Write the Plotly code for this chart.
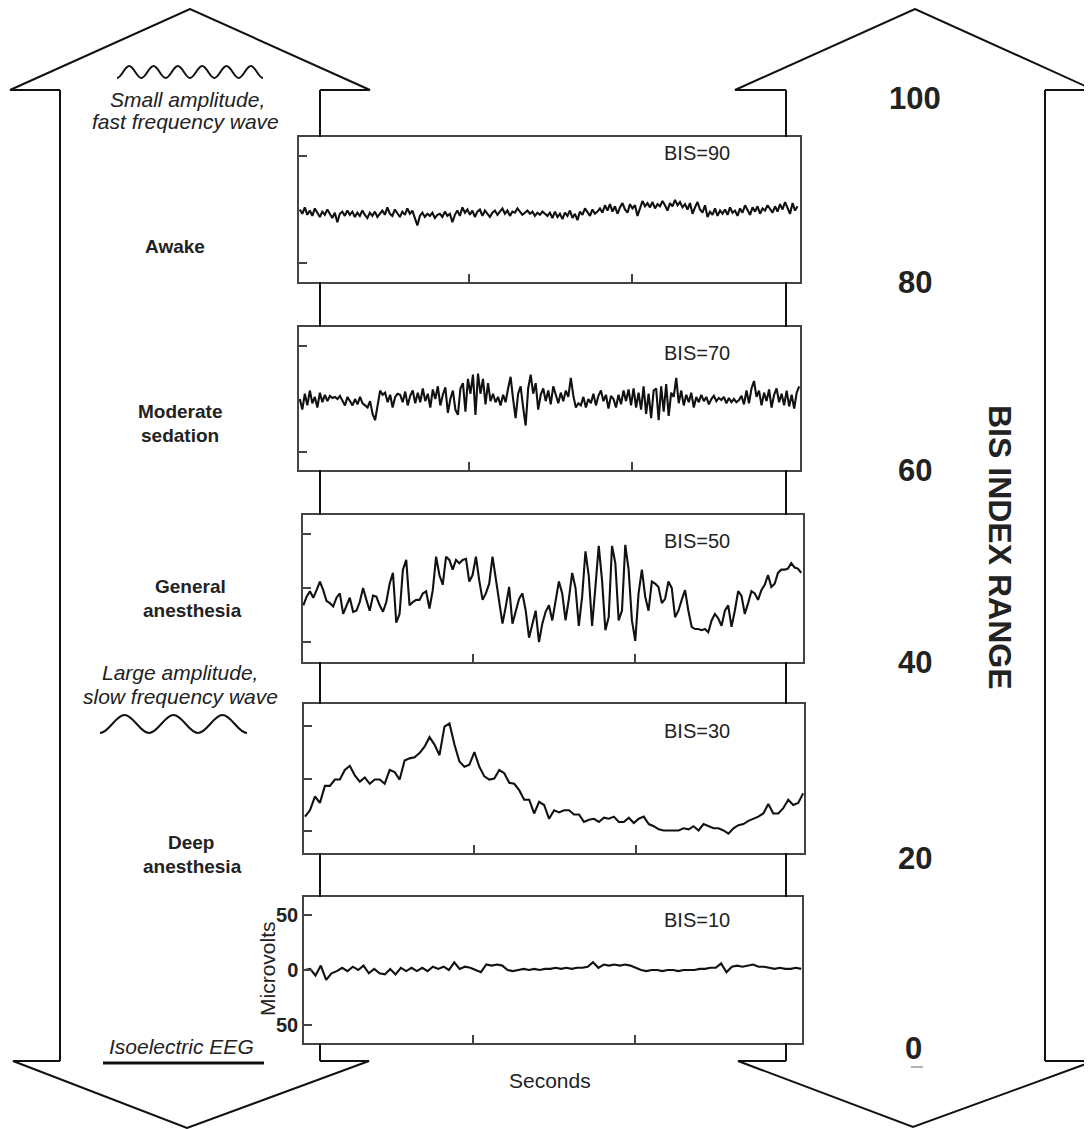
import numpy as np
import plotly.graph_objects as go

# ---------------- data ----------------
bis_labels = ["BIS=90", "BIS=70", "BIS=50", "BIS=30", "BIS=10"]
state_labels = [["Awake"], ["Moderate", "sedation"], ["General", "anesthesia"], ["Deep", "anesthesia"]]
bis_scale = ["100", "80", "60", "40", "20", "0"]

# time span of each trace (seconds)
t_awake = (-0.04, 3.02)
t_moderate = (-0.04, 3.03)
t_general = (-0.043, 3.024)
t_deep = (-0.039, 3.03)
t_iso = (-0.04, 3.03)

# EEG amplitudes (microvolts)
eeg_awake = [
    0, -4, 2, -5, -1, -6, 1, -3, -7, -2, -5, 0, -4, -8, -3, -12, -4, -2, -6, -1,
    -5, -2, -7, -3, -6, -1, -5, -8, -3, -6, -2, -7, -4, -1, -5, 2, -4, -6, 0, -3,
    -7, -2, -5, 1, -4, -1, -9, -15, -6, -3, -7, -4, -6, -3, -8, -5, -4, -7, -2, -6,
    -4, -12, -5, -1, -6, 2, -3, 0, -5, -1, -7, -2, 0, -6, -1, -4, -7, -3, -1, -5,
    -2, 1, -4, -1, -6, -2, -3, 1, -2, -5, -3, -1, -4, -2, -6, -3, -5, -2, -4, -6,
    -3, -8, -2, -7, -4, -9, -3, -6, -1, -8, -4, -10, -2, -5, 1, -3, -6, 0, -4, -2,
    1, -3, 4, -1, 5, -2, 3, -4, 2, 6, 0, -3, 5, 1, 4, -6, 2, 8, 3, 6,
    2, 7, 1, 5, 3, 8, 4, -1, 6, 3, 9, 4, 7, 2, 5, 0, 6, -4, 2, 7,
    0, -3, 4, -7, -2, -5, 1, -6, -1, -4, 0, -5, 2, -3, -1, -6, 1, -3, 4, 0,
    -5, 2, -2, 3, -4, 1, -1, 4, 0, -3, 3, -2, 5, 0, 7, 2, -4, 6, -1, 3,
]
eeg_moderate = [
    0, -10, 5, -6, 8, -4, 2, -8, 6, -3, 4, -2, 3, 1, 2, 0, 3, -1, -6, 2,
    -2, -6, 0, -5, 2, -4, -6, -8, -2, -14, -20, -4, 8, 4, 6, -3, 4, -8, 2, 5,
    4, -3, 7, -6, 3, 8, -4, 6, -3, 10, -2, 5, -8, 9, 0, 12, -6, 4, 11, -13,
    0, 8, -10, -15, 10, 15, -12, 19, 5, 23, -15, 24, 5, 19, -5, 15, -2, 5, -3, 2,
    -6, 4, -3, 10, 21, 0, -18, 5, 12, -8, -25, 10, 23, 5, 15, -10, 4, 10, -2, 8,
    -5, 12, 3, -4, 6, -2, 8, 2, 20, 3, -8, -4, -6, 2, -8, 0, -4, 5, -6, 3,
    8, -2, 4, -9, 3, 0, -8, 4, -5, 8, -2, 9, -6, 10, -8, 6, -10, 12, -14, 5,
    -18, 8, 10, -20, 12, -12, 14, -16, 6, 2, 20, -4, 8, -6, 4, -3, 6, -8, 2, -3,
    4, -2, 2, -5, 0, 3, -2, 1, -1, 2, -4, 1, -3, 0, -3, -1, 3, -5, 8, -4,
    10, 17, 2, 8, -6, 6, -2, 9, -8, 4, 10, -3, 5, -6, 8, -7, 4, -9, 6, 12,
]
eeg_general = [
    -16, -8, -3, -9, -2, 6, -2, -12, -14, -17,
    -9, -5, -24, -16, -9, -22, -21, -13, 0, -11,
    -21, -7, -8, -16, -22, -13, 4, 14, -32, -24,
    17, 26, -16, -13, -11, -11, -5, -3, -19, -2,
    29, 12, 3, 29, 26, 17, 26, 23, 26, 27,
    6, 12, 29, 7, -11, -5, 4, 29, 9, -13,
    -33, -17, 1, -33, -21, -10, -5, -21, -46, -33,
    -21, -50, -33, -22, -16, -30, -10, 6, -5, -30,
    -10, 14, 0, -35, -8, 34, 11, -35, 1, 39,
    7, -39, -27, 39, 23, -30, -21, 40, 17, -30,
    -49, -5, 17, -8, -21, 6, 4, 1, -14, -10,
    6, 0, -27, -21, -11, -2, -21, -36, -38, -38,
    -39, -38, -41, -30, -24, -28, -35, -21, -16, -36,
    -21, -3, -7, -24, -14, -3, -5, -11, -2, 3,
    12, 1, 4, 14, 17, 17, 18, 23, 19, 18,
    14,
]
eeg_deep = [
    -36, -30, -17, -23, -7, -7, -1, -1, 8, 12,
    3, -3, 1, -5, -1, -1, -5, 8, 6, -1,
    17, 19, 20, 24, 30, 39, 32, 22, 49, 52,
    32, 16, 11, 13, 25, 11, 2, -1, 0, 8,
    5, -4, -5, -11, -20, -20, -33, -22, -25, -38,
    -30, -32, -30, -30, -34, -34, -41, -39, -38, -41,
    -37, -38, -36, -41, -41, -37, -42, -38, -36, -43,
    -45, -48, -49, -49, -49, -49, -47, -48, -45, -49,
    -43, -45, -47, -47, -49, -52, -47, -44, -43, -40,
    -38, -36, -33, -24, -33, -33, -28, -20, -25, -23,
    -14,
]
eeg_iso = [
    0, 1, -5, 4, -9, -3, -1, 2, -1, 3,
    0, 4, -3, 1, -3, -4, 1, -4, 2, -1,
    2, -1, 2, -1, 3, 1, 3, 0, 7, 1,
    3, 2, 0, -2, 5, 4, 5, 4, 0, -1,
    0, 1, 0, 1, 0, 1, 1, 2, 1, 2,
    1, 2, 2, 3, 7, 2, 5, 4, 5, 4,
    5, 4, 2, 0, -1, 0, 0, -1, 0, 0,
    -1, 0, 0, 0, 1, 1, 2, 2, 6, -2,
    3, 4, 3, 4, 5, 3, 3, 2, 1, 2,
    1, 1, 2, 1,
]
y_tick_vals = [-50, 0, 50]
y_tick_text = ["50", "0", "50"]
x_tick_vals = [1, 2]

# ---------------- layout geometry (pixels of the 1092x1129 window) ----------------
OFF = 8                      # page body margin of the browser
W, H = 1092 - OFF, 1129 - OFF
FONT = "Liberation Sans"
INK = "#111111"
TXT = "#222222"


def px(x):
    return (x - OFF) / W


def py(y):
    return 1 - (y - OFF) / H


panels = [
    dict(vals=eeg_awake, t=t_awake, box=(299, 800, 137, 282), yr=[-68, 68], yt=[-50, 50], lab=(697, 153)),
    dict(vals=eeg_moderate, t=t_moderate, box=(299, 800, 327, 470), yr=[-67, 68], yt=[-50, 50], lab=(697, 353)),
    dict(vals=eeg_general, t=t_general, box=(303, 803, 515, 662), yr=[-68.5, 67.6], yt=y_tick_vals, lab=(697, 541)),
    dict(vals=eeg_deep, t=t_deep, box=(304, 804, 704, 853), yr=[-70.3, 70.3], yt=y_tick_vals, lab=(697, 731)),
    dict(vals=eeg_iso, t=t_iso, box=(304, 802, 897, 1043), yr=[-66.4, 66.4], yt=y_tick_vals, lab=(697, 920)),
]

fig = go.Figure()
layout = dict(
    width=W, height=H, margin=dict(l=0, r=0, t=0, b=0),
    paper_bgcolor="white", plot_bgcolor="white", showlegend=False,
    font=dict(family=FONT, color=TXT),
)
annotations = []
shapes = []

for i, p in enumerate(panels, start=1):
    xa = "x" if i == 1 else f"x{i}"
    ya = "y" if i == 1 else f"y{i}"
    n = len(p["vals"])
    t = np.linspace(p["t"][0], p["t"][1], n)
    fig.add_trace(go.Scatter(x=t, y=p["vals"], mode="lines",
                             line=dict(color=INK, width=2.1),
                             xaxis=xa, yaxis=ya, hoverinfo="skip"))
    x0, x1, y0, y1 = p["box"]
    last = i == len(panels)
    layout["xaxis" if i == 1 else f"xaxis{i}"] = dict(
        domain=[px(x0), px(x1)], range=[-0.045, 3.035], anchor=ya,
        tickvals=x_tick_vals, ticks="inside", ticklen=8, tickwidth=1.5, tickcolor="#444",
        showticklabels=False, showline=True, mirror=True, linecolor="#444", linewidth=1.5,
        showgrid=False, zeroline=False, fixedrange=True,
    )
    layout["yaxis" if i == 1 else f"yaxis{i}"] = dict(
        domain=[py(y1), py(y0)], range=p["yr"], anchor=xa,
        tickvals=p["yt"], ticktext=[y_tick_text[y_tick_vals.index(v)] for v in p["yt"]],
        ticks="inside", ticklen=8, tickwidth=1.5, tickcolor="#444",
        showticklabels=last, tickfont=dict(family=FONT, size=20, color=TXT, weight="bold"),
        showline=True, mirror=True, linecolor="#444", linewidth=1.5,
        showgrid=False, zeroline=False, fixedrange=True,
    )
    annotations.append(dict(x=px(p["lab"][0]), y=py(p["lab"][1]), xref="paper", yref="paper",
                            text=bis_labels[i - 1], showarrow=False, xanchor="center", yanchor="middle",
                            font=dict(family=FONT, size=20, color=TXT)))


def poly(points):
    return "M " + " L ".join(f"{px(x):.5f},{py(y):.5f}" for x, y in points)


def wave(xs, xe, ytrough, ypeak, periods):
    per = (xe - xs) / periods
    h = per / 2
    k = 0.3642
    d = f"M {px(xs):.5f},{py(ytrough):.5f}"
    x = xs
    for _ in range(periods):
        d += (f" C {px(x + k * h):.5f},{py(ytrough):.5f} {px(x + (1 - k) * h):.5f},{py(ypeak):.5f}"
              f" {px(x + h):.5f},{py(ypeak):.5f}")
        x += h
        d += (f" C {px(x + k * h):.5f},{py(ypeak):.5f} {px(x + (1 - k) * h):.5f},{py(ytrough):.5f}"
              f" {px(x + h):.5f},{py(ytrough):.5f}")
        x += h
    return d


def add_path(d, width=2.0, color=INK):
    shapes.append(dict(type="path", path=d, xref="paper", yref="paper",
                       line=dict(color=color, width=width), layer="above"))


# big double arrows
add_path(poly([(60, 90), (10, 90), (190, 9), (370, 90), (320, 90)]))
add_path(poly([(60, 90), (60, 1061)]))
add_path(poly([(60, 1061), (13, 1061), (187, 1128), (369, 1061), (320, 1061)]))
add_path(poly([(786, 90), (735, 90), (915, 9), (1094, 90), (1045, 90)]))
add_path(poly([(1045, 90), (1045, 1061)]))
add_path(poly([(786, 1061), (738, 1061), (913, 1127), (1094, 1061), (1045, 1061)]))
gaps = [(90, 137), (282, 327), (470, 515), (662, 704), (853, 897), (1043, 1061)]
for a, b in gaps:
    add_path(poly([(320, a), (320, b)]))
    add_path(poly([(786, a), (786, b)]))

# wave icons and underline
add_path(wave(117, 263, 78, 66, 6), width=2.0)
add_path(wave(100, 247, 733, 715, 3), width=2.0)
add_path(poly([(103, 1063), (264, 1063)]), width=3.2)
add_path(poly([(911, 1067), (923, 1067)]), width=1.5, color="#999999")


def text(x, y, s, size, bold=False, italic=False, angle=0):
    if bold:
        s = f"<b>{s}</b>"
    if italic:
        s = f"<i>{s}</i>"
    annotations.append(dict(x=px(x), y=py(y), xref="paper", yref="paper", text=s,
                            showarrow=False, xanchor="center", yanchor="middle",
                            textangle=angle, font=dict(family=FONT, size=size, color=TXT)))


text(187, 100, "Small amplitude,", 21, italic=True)
text(185, 122, "fast frequency wave", 21, italic=True)
text(180, 672, "Large amplitude,", 21, italic=True)
text(180, 696, "slow frequency wave", 21, italic=True)
text(181, 1046, "Isoelectric EEG", 21, italic=True)

state_pos = [[(175, 246)], [(180, 411), (180, 435)], [(190, 586), (192, 610)], [(191, 842), (192, 866)]]
for lines, pos in zip(state_labels, state_pos):
    for s, (x, y) in zip(lines, pos):
        text(x, y, s, 19, bold=True)

scale_pos = [(915, 98), (915, 282), (915, 470), (915, 662), (915, 858), (913, 1048)]
for s, (x, y) in zip(bis_scale, scale_pos):
    text(x, y, s, 31, bold=True)

text(1000, 547, "BIS INDEX RANGE", 32, bold=True, angle=90)
text(267, 969, "Microvolts", 21, angle=-90)
text(550, 1080, "Seconds", 21)

layout["annotations"] = annotations
layout["shapes"] = shapes
fig.update_layout(**layout)
fig.write_html("out.html")
